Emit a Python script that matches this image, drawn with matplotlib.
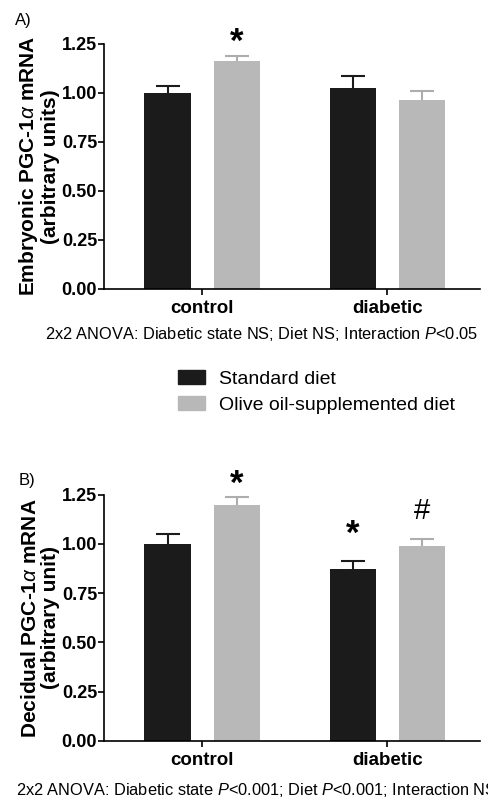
import matplotlib as mpl
import matplotlib.pyplot as plt
import numpy as np
from matplotlib.patches import Patch

mpl.rcParams.update(
    {
        "font.family": ["Liberation Sans", "DejaVu Sans"],
        "mathtext.fontset": "custom",
        "mathtext.rm": "Liberation Sans",
        "mathtext.it": "Liberation Sans:italic",
        "mathtext.bf": "Liberation Sans:bold",
        "axes.linewidth": 1.2,
        "axes.spines.top": False,
        "axes.spines.right": False,
        "xtick.major.width": 1.2,
        "ytick.major.width": 1.2,
        "xtick.major.size": 4,
        "ytick.major.size": 4,
    }
)

C_BLACK = "#1b1b1b"
C_GRAY = "#b8b8b8"
C_GRAY_ERR = "#adadad"

groups = ["control", "diabetic"]
series = ["Standard diet", "Olive oil-supplemented diet"]

# Embryonic PGC-1a (panel A): mean and upper SEM
emb_std = [1.00, 1.024]
emb_std_err = [0.033, 0.061]
emb_olive = [1.163, 0.963]
emb_olive_err = [0.024, 0.044]

# Decidual PGC-1a (panel B)
dec_std = [1.00, 0.873]
dec_std_err = [0.049, 0.039]
dec_olive = [1.20, 0.990]
dec_olive_err = [0.040, 0.037]

yticks = [0.00, 0.25, 0.50, 0.75, 1.00, 1.25]

# significance marks: (group index, series index, symbol, y centre)
marks_a = [(0, 1, "*", 1.311)]
marks_b = [(0, 1, "*", 1.353), (1, 0, "*", 1.103), (1, 1, "#", 1.181)]

W = 0.251
OFF = 0.187


def draw_panel(ax, std, std_err, olive, olive_err, ylabel, marks):
    x = np.arange(len(groups))
    for vals, errs, dx, col, ecol in [
        (std, std_err, -OFF, C_BLACK, C_BLACK),
        (olive, olive_err, OFF, C_GRAY, C_GRAY_ERR),
    ]:
        ax.bar(x + dx, vals, W, color=col, zorder=2)
        _, caps, _ = ax.errorbar(
            x + dx, vals, yerr=[np.zeros(len(vals)), errs], fmt="none",
            ecolor=ecol, elinewidth=1.5, capsize=8.5, capthick=1.5, zorder=1,
        )
        caps[0].set_visible(False)  # upper-only error bars
    for gi, si, sym, yc in marks:
        xx = gi + (OFF if si else -OFF)
        fs = 25 if sym == "*" else 21
        # shift so the glyph ink (not the line box) sits on yc
        dy = -0.30 * fs if sym == "*" else -0.08 * fs
        ax.annotate(sym, (xx, yc), xytext=(0, dy), textcoords="offset points",
                    ha="center", va="center", fontsize=fs,
                    fontweight="bold" if sym == "*" else "normal",
                    annotation_clip=False)
    ax.set_xlim(-0.531, 1.501)
    ax.set_ylim(0, 1.25)
    ax.set_yticks(yticks)
    ax.set_yticklabels([f"{v:.2f}" for v in yticks], fontsize=13, fontweight="bold")
    ax.set_xticks(x)
    ax.set_xticklabels(groups, fontsize=13.5, fontweight="bold")
    ax.tick_params(axis="y", pad=1)
    ax.tick_params(axis="x", pad=4)
    ax.set_ylabel(ylabel, fontsize=15, fontweight="bold", linespacing=1.05, labelpad=1)


fig = plt.figure(figsize=(4.89, 7.97), dpi=100)
ax_a = fig.add_axes([0.2127, 0.6374, 0.769, 0.308])
ax_b = fig.add_axes([0.2127, 0.0703, 0.769, 0.309])

draw_panel(ax_a, emb_std, emb_std_err, emb_olive, emb_olive_err,
           "Embryonic PGC-1$\\alpha$ mRNA\n(arbitrary units)", marks_a)
draw_panel(ax_b, dec_std, dec_std_err, dec_olive, dec_olive_err,
           "Decidual PGC-1$\\alpha$ mRNA\n(arbitrary unit)", marks_b)

fig.text(15 / 489, 1 - 21 / 797, "A)", fontsize=12, va="center", ha="left")
fig.text(19 / 489, 1 - 481 / 797, "B)", fontsize=12, va="center", ha="left")

fig.text(45 / 489, 1 - 334 / 797,
         "2x2 ANOVA: Diabetic state NS; Diet NS; Interaction $P$<0.05",
         fontsize=11.8, va="center", ha="left")
fig.text(16 / 489, 1 - 790 / 797,
         "2x2 ANOVA: Diabetic state $P$<0.001; Diet $P$<0.001; Interaction NS",
         fontsize=11.8, va="center", ha="left")

handles = [Patch(color=C_BLACK), Patch(color=C_GRAY)]
fig.legend(handles, series, loc="upper left",
           bbox_to_anchor=(178 / 489, 1 - 370 / 797), frameon=False,
           fontsize=14, borderpad=0, borderaxespad=0, handlelength=1.39,
           handleheight=0.72, handletextpad=0.72, labelspacing=0.45)

fig.savefig("out.png", dpi=100, facecolor="white")
